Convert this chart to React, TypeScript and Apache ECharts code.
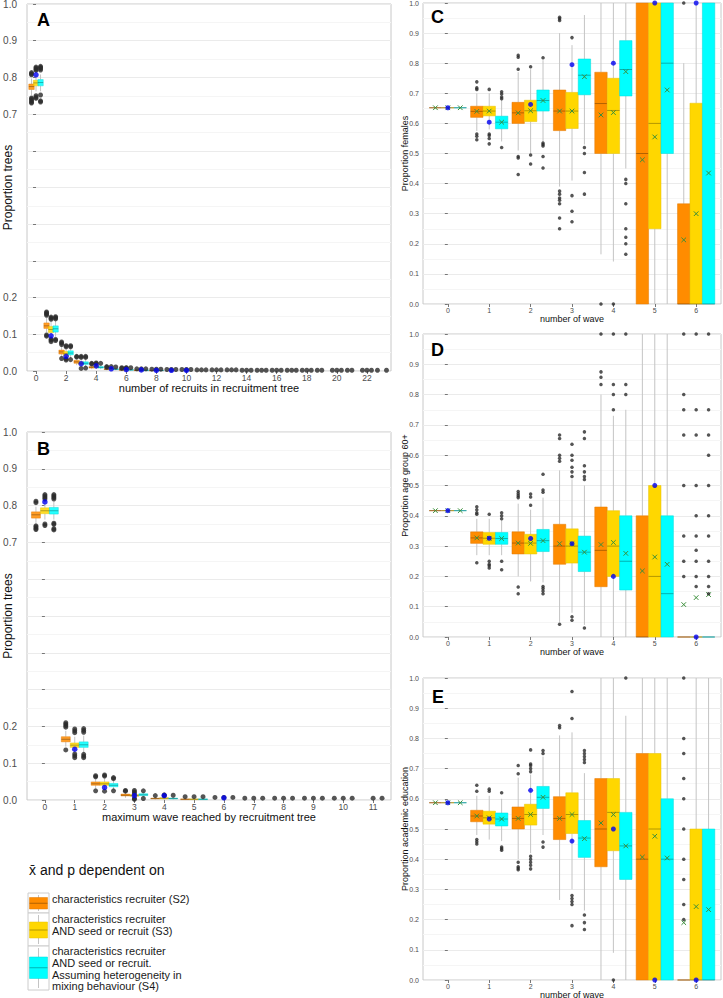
import React, { useEffect, useRef } from 'react';
import * as echarts from 'echarts';

const FONT = 'Liberation Sans, Arial, Helvetica, sans-serif';
const FILLS = ['#FF8C00', '#FFD700', '#00FFFF'];
const STROKES = ['#E07800', '#E6C000', '#00D8D8'];
const OFFSETS = [-0.3, 0, 0.3];

// ---- tick labels ----
const A_XTICKS = [0, 2, 4, 6, 8, 10, 12, 14, 16, 18, 20, 22];
const B_XTICKS = [0, 1, 2, 3, 4, 5, 6, 7, 8, 9, 10, 11];
const WAVE_TICKS = [0, 1, 2, 3, 4, 5, 6];
const HIDDEN_Y_LABELS = [0.3, 0.4, 0.5, 0.6];

// ---- Panel A: number of recruits (boxes: lo, q1, median, q3, hi) ----
const A_S2 = [
  [0.752, 0.767, 0.775, 0.782, 0.797], [0.105, 0.116, 0.123, 0.131, 0.145], [0.038, 0.046, 0.052, 0.057, 0.068],
  [0.016, 0.021, 0.025, 0.029, 0.035], [0.005, 0.008, 0.010, 0.012, 0.016], [0.002, 0.004, 0.005, 0.006, 0.009],
  [0.001, 0.002, 0.003, 0.004, 0.006], [0.0, 0.001, 0.002, 0.003, 0.004], [0.0, 0.001, 0.001, 0.002, 0.003],
];
const A_S3 = [
  [0.762, 0.777, 0.785, 0.792, 0.806], [0.092, 0.105, 0.113, 0.121, 0.134], [0.033, 0.042, 0.047, 0.053, 0.062],
  [0.012, 0.018, 0.021, 0.025, 0.031], [0.006, 0.009, 0.012, 0.014, 0.018], [0.002, 0.004, 0.006, 0.007, 0.010],
  [0.001, 0.002, 0.003, 0.004, 0.006], [0.0, 0.001, 0.002, 0.003, 0.004], [0.0, 0.001, 0.001, 0.002, 0.003],
];
const A_S4 = [
  [0.762, 0.777, 0.786, 0.794, 0.808], [0.093, 0.106, 0.115, 0.123, 0.136], [0.034, 0.044, 0.049, 0.055, 0.064],
  [0.012, 0.018, 0.021, 0.025, 0.031], [0.005, 0.008, 0.010, 0.012, 0.016], [0.002, 0.004, 0.005, 0.006, 0.009],
  [0.001, 0.002, 0.003, 0.004, 0.006], [0.0, 0.001, 0.002, 0.003, 0.004], [0.0, 0.001, 0.001, 0.002, 0.003],
];
const A_OUT_S2 = [
  [0, 0.813], [0, 0.81], [0, 0.807], [0, 0.744], [0, 0.741], [0, 0.737], [0, 0.733], [0, 0.73],
  [1, 0.161], [1, 0.158], [1, 0.155], [1, 0.152], [1, 0.098], [1, 0.095],
  [2, 0.079], [2, 0.076], [2, 0.072], [2, 0.034], [3, 0.04], [3, 0.038], [4, 0.021], [4, 0.019],
  [5, 0.012], [5, 0.010], [6, 0.009], [6, 0.007], [7, 0.006], [8, 0.005], [9, 0.004], [10, 0.004],
  [11, 0.003], [12, 0.003], [13, 0.003], [14, 0.002], [15, 0.002], [16, 0.002], [17, 0.002], [18, 0.002],
  [19, 0.002], [20, 0.002], [21, 0.002], [22, 0.002], [23, 0.002],
];
const A_OUT_S3 = [
  [0, 0.828], [0, 0.825], [0, 0.822], [0, 0.819], [0, 0.75], [0, 0.746], [0, 0.743],
  [1, 0.147], [1, 0.144], [1, 0.141], [1, 0.087], [1, 0.084], [1, 0.08],
  [2, 0.069], [2, 0.066], [2, 0.033], [2, 0.03], [3, 0.04], [3, 0.037], [3, 0.007], [4, 0.022], [4, 0.02],
  [5, 0.012], [6, 0.009], [6, 0.008], [7, 0.006], [8, 0.005], [9, 0.004], [10, 0.004], [11, 0.003],
  [12, 0.003], [13, 0.003], [14, 0.002], [15, 0.002], [16, 0.002], [17, 0.002], [18, 0.002], [19, 0.002],
  [20, 0.002], [21, 0.002], [22, 0.002],
];
const A_OUT_S4 = [
  [0, 0.83], [0, 0.827], [0, 0.824], [0, 0.82], [0, 0.752], [0, 0.736], [0, 0.733],
  [1, 0.148], [1, 0.145], [1, 0.142], [1, 0.086], [1, 0.083],
  [2, 0.069], [2, 0.066], [2, 0.031], [3, 0.04], [3, 0.037], [3, 0.008], [4, 0.021],
  [5, 0.011], [6, 0.009], [7, 0.006], [8, 0.005], [9, 0.004], [10, 0.004], [11, 0.003], [12, 0.003],
  [13, 0.003], [14, 0.002], [15, 0.002], [16, 0.002], [17, 0.002], [18, 0.002], [20, 0.002], [22, 0.002], [23, 0.002],
];
const A_OBS = [
  [0, 0.807], [1, 0.096], [2, 0.040], [3, 0.020], [4, 0.014], [5, 0.006], [6, 0.004], [7, 0.003], [8, 0.002], [9, 0.002], [10, 0.002],
];

// ---- Panel B: maximum wave ----
const B_S2 = [
  [0.753, 0.766, 0.775, 0.783, 0.797], [0.145, 0.158, 0.165, 0.172, 0.188], [0.032, 0.040, 0.044, 0.049, 0.058],
  [0.006, 0.011, 0.013, 0.016, 0.021], [0.001, 0.003, 0.004, 0.005, 0.008], [0.0, 0.001, 0.002, 0.003, 0.004],
];
const B_S3 = [
  [0.762, 0.778, 0.786, 0.794, 0.808], [0.128, 0.143, 0.149, 0.155, 0.172], [0.030, 0.040, 0.044, 0.049, 0.060],
  [0.005, 0.010, 0.012, 0.015, 0.020], [0.001, 0.003, 0.005, 0.006, 0.009], [0.0, 0.001, 0.002, 0.003, 0.004],
];
const B_S4 = [
  [0.762, 0.777, 0.786, 0.795, 0.81], [0.128, 0.143, 0.150, 0.158, 0.175], [0.028, 0.036, 0.040, 0.045, 0.054],
  [0.007, 0.012, 0.014, 0.017, 0.022], [0.001, 0.003, 0.004, 0.005, 0.008], [0.0, 0.001, 0.002, 0.003, 0.004],
];
const B_OUT_S2 = [
  [0, 0.812], [0, 0.808], [0, 0.745], [0, 0.742], [0, 0.738], [0, 0.735],
  [1, 0.21], [1, 0.206], [1, 0.202], [1, 0.198], [1, 0.136], [2, 0.066], [2, 0.063], [2, 0.025],
  [3, 0.026], [3, 0.024], [4, 0.012], [5, 0.009], [6, 0.007], [7, 0.005], [8, 0.005], [9, 0.005], [10, 0.005],
];
const B_OUT_S3 = [
  [0, 0.83], [0, 0.826], [0, 0.822], [0, 0.818], [0, 0.75], [0, 0.746],
  [1, 0.193], [1, 0.188], [1, 0.183], [1, 0.125], [1, 0.12], [1, 0.115], [2, 0.068], [2, 0.065], [2, 0.024],
  [3, 0.026], [3, 0.022], [3, 0.018], [3, 0.004], [3, 0.002], [4, 0.014], [4, 0.012], [5, 0.009], [6, 0.007],
  [7, 0.005], [8, 0.005], [9, 0.005], [10, 0.005], [11, 0.005],
];
const B_OUT_S4 = [
  [0, 0.83], [0, 0.826], [0, 0.822], [0, 0.818], [0, 0.752], [0, 0.749], [0, 0.737], [0, 0.734],
  [1, 0.194], [1, 0.189], [1, 0.184], [1, 0.124], [1, 0.119], [1, 0.115], [2, 0.061], [2, 0.058], [2, 0.025],
  [3, 0.025], [3, 0.004], [4, 0.013], [5, 0.009], [6, 0.007], [7, 0.005], [8, 0.005], [9, 0.005], [10, 0.005], [11, 0.005],
];
const B_OBS = [[0, 0.81], [1, 0.138], [2, 0.034], [3, 0.012], [4, 0.012], [6, 0.006]];

// ---- Panel C: proportion females (lo, q1, median, q3, hi, mean) per wave ----
const C_S2 = [
  [0.652, 0.652, 0.652, 0.652, 0.652, 0.652], [0.575, 0.620, 0.640, 0.657, 0.700, 0.640], [0.51, 0.600, 0.635, 0.670, 0.77, 0.635],
  [0.39, 0.576, 0.641, 0.711, 0.90, 0.641], [0.165, 0.500, 0.666, 0.770, 1.0, 0.628], [0.0, 0.0, 0.500, 1.0, 1.0, 0.479],
  [0.0, 0.0, 0.0, 0.333, 0.80, 0.213],
];
const C_S3 = [
  [0.652, 0.652, 0.652, 0.652, 0.652, 0.652], [0.58, 0.625, 0.641, 0.657, 0.70, 0.641], [0.50, 0.606, 0.642, 0.677, 0.78, 0.642],
  [0.41, 0.583, 0.641, 0.703, 0.86, 0.641], [0.141, 0.500, 0.643, 0.750, 1.0, 0.636], [0.0, 0.25, 0.60, 1.0, 1.0, 0.555],
  [0.0, 0.0, 0.0, 0.667, 1.0, 0.30],
];
const C_S4 = [
  [0.652, 0.652, 0.652, 0.652, 0.652, 0.652], [0.54, 0.582, 0.604, 0.624, 0.68, 0.604], [0.54, 0.641, 0.676, 0.711, 0.81, 0.676],
  [0.53, 0.695, 0.760, 0.814, 0.96, 0.755], [0.45, 0.691, 0.779, 0.875, 1.0, 0.772], [0.0, 0.50, 0.80, 1.0, 1.0, 0.711],
  [0.0, 0.0, 0.0, 1.0, 1.0, 0.435],
];
const C_OUT_S2 = [
  [1, 0.738], [1, 0.718], [1, 0.713], [1, 0.565], [1, 0.557], [1, 0.546],
  [2, 0.826], [2, 0.82], [2, 0.78], [2, 0.49], [2, 0.485], [2, 0.43],
  [3, 0.953], [3, 0.948], [3, 0.942], [3, 0.375], [3, 0.365], [3, 0.352], [3, 0.345], [3, 0.333], [3, 0.286], [3, 0.25],
  [4, 0.0], [6, 1.0],
];
const C_OUT_S3 = [
  [1, 0.713], [1, 0.565], [1, 0.56], [1, 0.55], [1, 0.532], [2, 0.788], [2, 0.495], [2, 0.465],
  [3, 0.885], [3, 0.36], [3, 0.308], [3, 0.273], [4, 0.0],
];
const C_OUT_S4 = [
  [1, 0.705], [1, 0.698], [1, 0.688], [1, 0.682], [1, 0.52],
  [2, 0.818], [2, 0.535], [2, 0.53], [2, 0.525], [2, 0.49], [2, 0.452],
  [3, 0.52], [3, 0.50], [3, 0.437], [3, 0.365],
  [4, 0.414], [4, 0.40], [4, 0.333], [4, 0.25], [4, 0.222], [4, 0.20], [4, 0.165],
];
const C_OBS = [0.652, 0.604, 0.663, 0.795, 0.80, 1.0, 1.0];

// ---- Panel D: proportion age group 60+ ----
const D_S2 = [
  [0.417, 0.417, 0.417, 0.417, 0.417, 0.417], [0.27, 0.309, 0.327, 0.347, 0.39, 0.327], [0.20, 0.274, 0.31, 0.347, 0.44, 0.31],
  [0.05, 0.24, 0.30, 0.372, 0.55, 0.308], [0.0, 0.166, 0.286, 0.429, 0.80, 0.305], [0.0, 0.0, 0.0, 0.40, 1.0, 0.218],
  [0.0, 0.0, 0.0, 0.0, 0.0, 0.107],
];
const D_S3 = [
  [0.417, 0.417, 0.417, 0.417, 0.417, 0.417], [0.27, 0.306, 0.326, 0.345, 0.39, 0.326], [0.183, 0.274, 0.31, 0.339, 0.42, 0.309],
  [0.08, 0.244, 0.30, 0.357, 0.52, 0.308], [0.0, 0.20, 0.30, 0.417, 0.73, 0.312], [0.0, 0.0, 0.20, 0.50, 1.0, 0.264],
  [0.0, 0.0, 0.0, 0.0, 0.0, 0.13],
];
const D_S4 = [
  [0.417, 0.417, 0.417, 0.417, 0.417, 0.417], [0.27, 0.306, 0.325, 0.345, 0.385, 0.325], [0.18, 0.282, 0.318, 0.355, 0.46, 0.318],
  [0.04, 0.216, 0.28, 0.333, 0.50, 0.28], [0.0, 0.155, 0.25, 0.40, 0.75, 0.276], [0.0, 0.0, 0.143, 0.40, 1.0, 0.24],
  [0.0, 0.0, 0.0, 0.0, 0.0, 0.14],
];
const D_OUT_S2 = [
  [1, 0.43], [1, 0.42], [1, 0.41], [1, 0.405], [1, 0.245],
  [2, 0.48], [2, 0.473], [2, 0.466], [2, 0.46], [2, 0.165], [2, 0.143],
  [3, 0.667], [3, 0.655], [3, 0.60], [3, 0.59], [3, 0.58], [3, 0.042],
  [4, 1.0], [4, 0.875], [4, 0.857], [4, 0.833],
  [6, 1.0], [6, 0.80], [6, 0.75], [6, 0.667], [6, 0.50], [6, 0.333], [6, 0.25], [6, 0.20],
];
const D_OUT_S3 = [
  [1, 0.405], [1, 0.25], [1, 0.24], [1, 0.235], [1, 0.228],
  [2, 0.472], [2, 0.462], [2, 0.435],
  [3, 0.636], [3, 0.60], [3, 0.583], [3, 0.56], [3, 0.545], [3, 0.53], [3, 0.067], [3, 0.055],
  [4, 1.0], [4, 0.833], [4, 0.80], [4, 0.75],
  [6, 1.0], [6, 0.75], [6, 0.667], [6, 0.50], [6, 0.40], [6, 0.333], [6, 0.286], [6, 0.25], [6, 0.20], [6, 0.167],
];
const D_OUT_S4 = [
  [1, 0.41], [1, 0.40], [1, 0.39], [1, 0.25], [1, 0.222],
  [2, 0.537], [2, 0.485], [2, 0.478], [2, 0.167], [2, 0.16], [2, 0.152], [2, 0.143],
  [3, 0.677], [3, 0.655], [3, 0.565], [3, 0.545], [3, 0.53], [3, 0.52], [3, 0.03],
  [4, 1.0], [4, 0.833], [4, 0.80],
  [6, 1.0], [6, 0.75], [6, 0.667], [6, 0.60], [6, 0.50], [6, 0.40], [6, 0.333], [6, 0.25], [6, 0.20], [6, 0.167], [6, 0.143],
];
const D_OBS = [0.417, 0.326, 0.325, 0.308, 0.20, 0.50, 0.0];

// ---- Panel E: proportion academic education ----
const E_S2 = [
  [0.587, 0.587, 0.587, 0.587, 0.587, 0.587], [0.48, 0.524, 0.543, 0.562, 0.61, 0.543], [0.40, 0.50, 0.535, 0.573, 0.67, 0.535],
  [0.265, 0.465, 0.535, 0.607, 0.81, 0.535], [0.0, 0.375, 0.50, 0.667, 1.0, 0.52], [0.0, 0.0, 0.40, 0.75, 1.0, 0.407],
  [0.0, 0.0, 0.0, 0.0, 0.0, 0.19],
];
const E_S3 = [
  [0.587, 0.587, 0.587, 0.587, 0.587, 0.587], [0.465, 0.516, 0.537, 0.559, 0.61, 0.537], [0.42, 0.513, 0.548, 0.582, 0.68, 0.548],
  [0.30, 0.485, 0.548, 0.62, 0.82, 0.548], [0.09, 0.428, 0.555, 0.667, 1.0, 0.548], [0.0, 0.0, 0.50, 0.75, 1.0, 0.476],
  [0.0, 0.0, 0.0, 0.50, 1.0, 0.243],
];
const E_S4 = [
  [0.587, 0.587, 0.587, 0.587, 0.587, 0.587], [0.46, 0.51, 0.533, 0.553, 0.60, 0.533], [0.48, 0.568, 0.605, 0.641, 0.74, 0.605],
  [0.23, 0.406, 0.47, 0.528, 0.685, 0.468], [0.0, 0.333, 0.444, 0.555, 0.875, 0.444], [0.0, 0.0, 0.40, 0.60, 1.0, 0.404],
  [0.0, 0.0, 0.0, 0.50, 1.0, 0.233],
];
const E_OUT_S2 = [
  [1, 0.645], [1, 0.625], [1, 0.465], [1, 0.458], [1, 0.45],
  [2, 0.71], [2, 0.683], [2, 0.39], [2, 0.375], [2, 0.37], [2, 0.365],
  [3, 0.843], [3, 0.835],
  [6, 1.0], [6, 0.80], [6, 0.75], [6, 0.667], [6, 0.60], [6, 0.50], [6, 0.40], [6, 0.333], [6, 0.25], [6, 0.20],
];
const E_OUT_S3 = [
  [1, 0.632], [1, 0.625],
  [2, 0.762], [2, 0.715], [2, 0.71], [2, 0.70], [2, 0.69], [2, 0.41], [2, 0.40], [2, 0.39], [2, 0.38], [2, 0.368],
  [3, 0.955], [3, 0.866], [3, 0.28], [3, 0.27], [3, 0.26], [3, 0.25], [3, 0.18], [4, 0.0],
];
const E_OUT_S4 = [
  [1, 0.62], [1, 0.44], [1, 0.435], [1, 0.43], [2, 0.76], [2, 0.75], [2, 0.457], [2, 0.44],
  [3, 0.76], [3, 0.75], [3, 0.74], [3, 0.73], [3, 0.72], [3, 0.215], [3, 0.19], [3, 0.167], [4, 1.0],
];
const E_OBS = [0.587, 0.533, 0.628, 0.46, 0.50, 0.0, 0.0];

const LEGEND_LINES = [
  ['characteristics recruiter (S2)'],
  ['characteristics recruiter', 'AND seed or recruit (S3)'],
  ['characteristics recruiter', 'AND seed or recruit.', 'Assuming heterogeneity in', 'mixing behaviour (S4)'],
];

function boxSeries(gi: number, boxes: number[][], k: number, w: number, big: boolean) {
  const data = boxes.map((b, cat) => [cat + OFFSETS[k], ...b]);
  return {
    type: 'custom',
    xAxisIndex: gi,
    yAxisIndex: gi,
    z: 3,
    silent: true,
    data,
    renderItem: (params: any, api: any) => {
      const x = api.value(0);
      const lo = api.value(1), q1 = api.value(2), med = api.value(3), q3 = api.value(4), hi = api.value(5);
      const mean = big ? NaN : api.value(6);
      const pLo = api.coord([x, lo]);
      const pHi = api.coord([x, hi]);
      const pA = api.coord([x - w / 2, q1]);
      const pB = api.coord([x + w / 2, q3]);
      const pM1 = api.coord([x - w / 2, med]);
      const pM2 = api.coord([x + w / 2, med]);
      const children: any[] = [
        { type: 'line', shape: { x1: pLo[0], y1: pLo[1], x2: pLo[0], y2: pA[1] }, style: { stroke: '#C4C4C4', lineWidth: 1 } },
        { type: 'line', shape: { x1: pHi[0], y1: pB[1], x2: pHi[0], y2: pHi[1] }, style: { stroke: '#C4C4C4', lineWidth: 1 } },
        {
          type: 'rect',
          shape: { x: pA[0], y: pB[1], width: pB[0] - pA[0], height: pA[1] - pB[1] },
          style: { fill: FILLS[k], stroke: STROKES[k], lineWidth: 0.5, opacity: big ? 0.85 : 1 },
        },
        { type: 'line', shape: { x1: pM1[0], y1: pM1[1], x2: pM2[0], y2: pM2[1] }, style: { stroke: 'rgba(0,0,0,0.3)', lineWidth: 1 } },
      ];
      if (!big && isFinite(mean)) {
        const pm = api.coord([x, mean]);
        const s = 2.3;
        children.push({ type: 'line', shape: { x1: pm[0] - s, y1: pm[1] - s, x2: pm[0] + s, y2: pm[1] + s }, style: { stroke: '#3A8F3A', lineWidth: 1 } });
        children.push({ type: 'line', shape: { x1: pm[0] - s, y1: pm[1] + s, x2: pm[0] + s, y2: pm[1] - s }, style: { stroke: '#3A8F3A', lineWidth: 1 } });
      }
      return { type: 'group', children };
    },
  };
}

function outlierSeries(gi: number, pts: number[][], k: number, size: number) {
  return {
    type: 'scatter', xAxisIndex: gi, yAxisIndex: gi, z: 4, silent: true,
    symbol: 'circle', symbolSize: size,
    itemStyle: { color: '#2B2B2B' },
    data: pts.map(([c, v]) => [c + OFFSETS[k], v]),
  };
}

function obsSeries(gi: number, pts: number[][], size: number) {
  return {
    type: 'scatter', xAxisIndex: gi, yAxisIndex: gi, z: 5, silent: true,
    symbol: 'circle', symbolSize: size,
    itemStyle: { color: '#0000F0' },
    data: pts,
  };
}

export default function App() {
  const ref = useRef<HTMLDivElement>(null);
  useEffect(() => {
    document.body.style.margin = '0';
    if (!ref.current) return;
    const chart = echarts.init(ref.current, undefined, { renderer: 'svg' });

    const panels = [
      { grid: { left: 27, top: 4, width: 364, height: 367 }, n: 24, ticks: A_XTICKS, xName: 'number of recruits in recruitment tree', yName: 'Proportion trees', big: true },
      { grid: { left: 27, top: 432, width: 364, height: 368 }, n: 12, ticks: B_XTICKS, xName: 'maximum wave reached by recruitment tree', yName: 'Proportion trees', big: true },
      { grid: { left: 423, top: 3, width: 298, height: 301 }, n: 7, ticks: WAVE_TICKS, xName: 'number of wave', yName: 'Proportion females', big: false },
      { grid: { left: 423, top: 334, width: 298, height: 303 }, n: 7, ticks: WAVE_TICKS, xName: 'number of wave', yName: 'Proportion age group 60+', big: false },
      { grid: { left: 423, top: 678, width: 298, height: 302 }, n: 7, ticks: WAVE_TICKS, xName: 'number of wave', yName: 'Proportion academic education', big: false },
    ];

    const grids = panels.map((p) => ({
      ...p.grid, show: true, borderColor: '#C8C8C8', borderWidth: 1, backgroundColor: '#fff',
      containLabel: false, outerBoundsMode: 'none',
    }));
    const xAxes = panels.map((p, i) => ({
      type: 'value', gridIndex: i, min: -0.6, max: p.n - 1 + 0.6,
      axisLine: { show: false },
      splitLine: { show: false },
      axisTick: { show: true, customValues: p.ticks, length: 3, lineStyle: { color: '#777' } },
      axisLabel: { customValues: p.ticks, fontSize: p.big ? 8.5 : 7, color: '#4D4D4D', margin: p.big ? 2 : 3, fontFamily: FONT },
      name: p.xName, nameLocation: 'middle', nameGap: p.big ? 11.5 : 10, nameMoveOverlap: false,
      nameTextStyle: { fontSize: p.big ? 11 : 9, color: '#111', fontFamily: FONT },
    }));
    const yAxes = panels.map((p, i) => ({
      type: 'value', gridIndex: i, min: 0, max: 1, interval: 0.1,
      axisLine: { show: false },
      axisTick: { show: true, length: 3, lineStyle: { color: '#777' } },
      axisLabel: {
        fontSize: p.big ? 10 : 7, color: '#4D4D4D', margin: p.big ? 10 : 4, fontFamily: FONT,
        formatter: (v: number) => (p.big && HIDDEN_Y_LABELS.some((h) => Math.abs(h - v) < 1e-6) ? '' : v.toFixed(1)),
      },
      splitLine: { show: true, lineStyle: { color: '#EBEBEB', width: 1 } },
      minorTick: { show: false, splitNumber: 2 },
      minorSplitLine: { show: true, lineStyle: { color: '#F5F5F5', width: 1 } },
      name: p.yName, nameLocation: 'middle', nameGap: p.big ? 13 : 13.5, nameMoveOverlap: false,
      nameTextStyle: { fontSize: p.big ? 12 : 9, color: '#111', fontFamily: FONT },
    }));

    const series: any[] = [];
    const boxSets = [
      [A_S2, A_S3, A_S4], [B_S2, B_S3, B_S4], [C_S2, C_S3, C_S4], [D_S2, D_S3, D_S4], [E_S2, E_S3, E_S4],
    ];
    const outSets = [
      [A_OUT_S2, A_OUT_S3, A_OUT_S4], [B_OUT_S2, B_OUT_S3, B_OUT_S4], [C_OUT_S2, C_OUT_S3, C_OUT_S4],
      [D_OUT_S2, D_OUT_S3, D_OUT_S4], [E_OUT_S2, E_OUT_S3, E_OUT_S4],
    ];
    const obsSets = [A_OBS, B_OBS, C_OBS.map((v, i) => [i, v]), D_OBS.map((v, i) => [i, v]), E_OBS.map((v, i) => [i, v])];
    panels.forEach((p, gi) => {
      const w = gi === 0 ? 0.36 : 0.3;
      for (let k = 0; k < 3; k++) series.push(boxSeries(gi, boxSets[gi][k], k, w, p.big));
      for (let k = 0; k < 3; k++) series.push(outlierSeries(gi, outSets[gi][k], k, p.big ? 5 : 3.5));
      series.push(obsSeries(gi, obsSets[gi], p.big ? 5.5 : 5));
    });

    const letters = [
      { t: 'A', x: 37, y: 20 }, { t: 'B', x: 37, y: 449 }, { t: 'C', x: 431, y: 17 }, { t: 'D', x: 431, y: 350 }, { t: 'E', x: 432, y: 697 },
    ];
    const graphic: any[] = letters.map((l) => ({
      type: 'text', x: l.x, y: l.y, z: 10,
      style: { text: l.t, font: `bold 18px ${FONT}`, fill: '#000', verticalAlign: 'middle', align: 'left' },
    }));
    graphic.push({
      type: 'text', x: 29, y: 870, style: { text: 'x\u0304 and p dependent on', font: `14px ${FONT}`, fill: '#111', verticalAlign: 'middle' },
    });
    const keys = [
      { y: 893, h: 20, by: 897.5, bh: 11.5, ty: [899] },
      { y: 913, h: 33, by: 922, bh: 16, ty: [919, 931] },
      { y: 946, h: 44, by: 957, bh: 21.5, ty: [951, 963, 974.5, 986] },
    ];
    keys.forEach((k, i) => {
      graphic.push({ type: 'rect', shape: { x: 28, y: k.y, width: 21, height: k.h }, style: { fill: '#fff', stroke: '#CCCCCC', lineWidth: 1 } });
      graphic.push({ type: 'line', shape: { x1: 38.5, y1: k.y + 2, x2: 38.5, y2: k.y + k.h - 2 }, style: { stroke: '#C4C4C4', lineWidth: 1 } });
      graphic.push({ type: 'rect', shape: { x: 29.5, y: k.by, width: 18, height: k.bh }, style: { fill: FILLS[i], stroke: STROKES[i], lineWidth: 0.5 } });
      graphic.push({ type: 'line', shape: { x1: 29.5, y1: k.by + k.bh / 2, x2: 47.5, y2: k.by + k.bh / 2 }, style: { stroke: 'rgba(0,0,0,0.3)', lineWidth: 1 } });
      LEGEND_LINES[i].forEach((line, j) => {
        graphic.push({ type: 'text', x: 52, y: k.ty[j], style: { text: line, font: `11px ${FONT}`, fill: '#1A1A1A', verticalAlign: 'middle' } });
      });
    });

    chart.setOption({
      animation: false,
      backgroundColor: '#fff',
      textStyle: { fontFamily: FONT },
      grid: grids,
      xAxis: xAxes,
      yAxis: yAxes,
      series,
      graphic,
    });
    return () => chart.dispose();
  }, []);
  return <div ref={ref} style={{ width: 723, height: 998 }} />;
}
